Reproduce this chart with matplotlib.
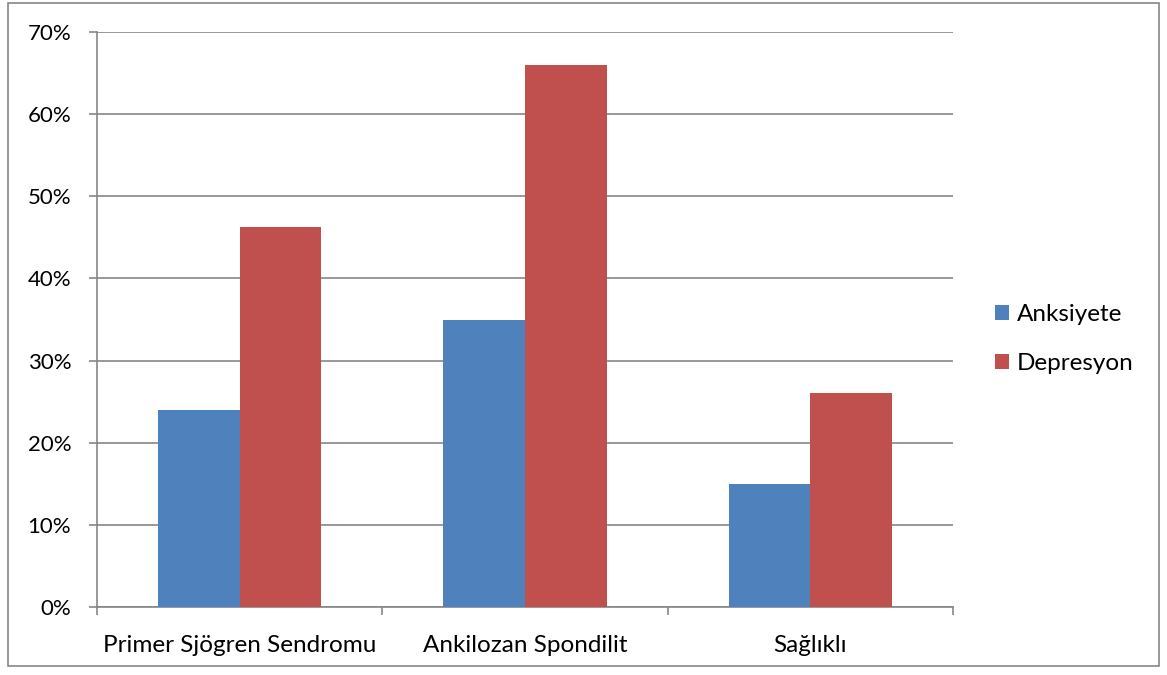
import matplotlib
matplotlib.use("Agg")
import matplotlib.pyplot as plt
from matplotlib.patches import Rectangle
import numpy as np

categories = ["Primer Sjögren Sendromu", "Ankilozan Spondilit", "Sağlıklı"]
anksiyete = [24.0, 35.0, 15.0]
depresyon = [46.3, 66.0, 26.0]
series_names = ["Anksiyete", "Depresyon"]
colors = ["#4F81BD", "#C0504D"]
y_ticks = [0, 10, 20, 30, 40, 50, 60, 70]

plt.rcParams['font.family'] = ['Lato', 'DejaVu Sans']

W, H = 1167, 675
fig = plt.figure(figsize=(W / 100, H / 100), dpi=100)

# outer chart border
fig.patches.append(Rectangle((8 / W, 1 - 666 / H), (1159 - 8) / W, (666 - 3) / H,
                             transform=fig.transFigure, fill=False,
                             edgecolor="#868686", linewidth=1.2))

left, right, top, bottom = 97, 953, 32, 607
ax = fig.add_axes([left / W, 1 - bottom / H, (right - left) / W, (bottom - top) / H])

x = np.arange(len(categories))
bw = 0.2857
ax.bar(x - bw / 2, anksiyete, bw, color=colors[0], label=series_names[0], zorder=3)
ax.bar(x + bw / 2, depresyon, bw, color=colors[1], label=series_names[1], zorder=3)

ax.set_xlim(-0.5, len(categories) - 0.5)
ax.set_ylim(0, 70)
ax.set_yticks(y_ticks)
ax.set_yticklabels([f"{v}%" for v in y_ticks], fontsize=16)
ax.yaxis.grid(True, color="#868686", linewidth=1.2, zorder=0)
ax.set_axisbelow(True)

ax.set_xticks(np.arange(-0.5, len(categories), 1.0))
ax.set_xticklabels([])
ax.set_xticks(x, minor=True)
ax.set_xticklabels(categories, minor=True, fontsize=17.5)
ax.tick_params(axis="x", which="minor", length=0, pad=20)
ax.tick_params(axis="x", which="major", length=5.5, color="#868686", width=1.2)
ax.tick_params(axis="y", length=5.5, color="#868686", width=1.2, pad=13)

for side in ["top", "right"]:
    ax.spines[side].set_visible(False)
for side in ["left", "bottom"]:
    ax.spines[side].set_color("#868686")
    ax.spines[side].set_linewidth(1.2)

ax.legend(loc="center left", bbox_to_anchor=(973 / W, 1 - 339 / H),
          bbox_transform=fig.transFigure, frameon=False, fontsize=17.5,
          handlelength=0.6, handleheight=0.6, handletextpad=0.3,
          labelspacing=1.15)

fig.savefig("out.png", dpi=100)
